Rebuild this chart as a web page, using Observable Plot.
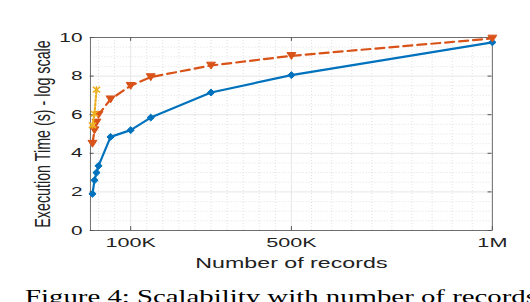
<!DOCTYPE html>
<html><head><meta charset="utf-8">
<script src="https://cdn.jsdelivr.net/npm/d3@7"></script>
<script src="https://cdn.jsdelivr.net/npm/@observablehq/plot@0.6"></script>
<style>
html,body{margin:0;padding:0;background:#fff;width:530px;height:302px;overflow:hidden;position:relative;}
#chart svg line, #chart svg path, #chart svg rect{vector-effect:non-scaling-stroke;}
#caption{position:absolute;left:25px;top:288px;font-family:"Liberation Serif","Times New Roman",serif;font-size:18px;line-height:18px;white-space:nowrap;transform:scaleX(1.6);transform-origin:0 0;color:#000;}
</style></head>
<body><div id="chart"></div><div id="caption">Figure 4: Scalability with number of records</div>
<script>
// ---- data ----
const records = [5000, 10000, 15000, 20000, 50000, 100000, 150000, 300000, 500000, 1000000];
const seriesBlue = [1.9, 2.6, 3.0, 3.35, 4.85, 5.2, 5.85, 7.15, 8.05, 9.75];
const seriesOrange = [4.5, 5.2, 5.6, 6.0, 6.8, 7.5, 7.95, 8.55, 9.05, 9.95];
const recordsYellow = [5000, 10000, 15000];
const seriesYellow = [5.45, 6.05, 7.3];
const xTicks = [100000, 500000, 1000000];
const xTickLabels = ["100K", "500K", "1M"];
const yTicks = [0, 2, 4, 6, 8, 10];
const xMinor = [20000, 60000, 140000, 180000, 220000, 260000, 300000, 340000, 380000, 420000, 460000,
                550000, 600000, 650000, 700000, 750000, 800000, 850000, 900000, 950000];
const yMinor = [0.5, 1, 1.5, 2.5, 3, 3.5, 4.5, 5, 5.5, 6.5, 7, 7.5, 8.5, 9, 9.5];

const blue = records.map((x, i) => ({x, y: seriesBlue[i]}));
const orange = records.map((x, i) => ({x, y: seriesOrange[i]}));
const yellow = recordsYellow.map((x, i) => ({x, y: seriesYellow[i]}));

// ---- symbols (drawn in internal units; svg is stretched horizontally) ----
const diamondSym = {draw(ctx, size) { const r = Math.sqrt(size / Math.PI);
  ctx.moveTo(0, -1.15 * r); ctx.lineTo(0.75 * r, 0); ctx.lineTo(0, 1.15 * r); ctx.lineTo(-0.75 * r, 0); ctx.closePath(); }};
const triDownSym = {draw(ctx, size) { const r = Math.sqrt(size / Math.PI);
  ctx.moveTo(-0.93 * r, -1.1 * r); ctx.lineTo(0.93 * r, -1.1 * r); ctx.lineTo(0, 1.2 * r); ctx.closePath(); }};
const asteriskSym = {draw(ctx, size) { const r = Math.sqrt(size / Math.PI);
  ctx.moveTo(-0.75 * r, -0.9 * r); ctx.lineTo(0.75 * r, 0.9 * r);
  ctx.moveTo(-0.75 * r, 0.9 * r); ctx.lineTo(0.75 * r, -0.9 * r);
  ctx.moveTo(0, -1.15 * r); ctx.lineTo(0, 1.15 * r); }};

const W = 331, H = 282, SCREEN_W = 530;
const font = "Liberation Sans, Arial, Helvetica, sans-serif";

const chart = Plot.plot({
  width: W, height: H,
  marginLeft: 56, marginRight: 24, marginTop: 37, marginBottom: 52,
  style: {fontFamily: font, background: "#fff", overflow: "visible"},
  x: {domain: [0, 1000000], axis: null},
  y: {domain: [0, 10], axis: null},
  marks: [
    Plot.ruleY(yMinor, {stroke: "#d9d9d9", strokeDasharray: "1,2", strokeWidth: 0.8}),
    Plot.ruleX(xMinor, {stroke: "#d9d9d9", strokeDasharray: "1,2", strokeWidth: 0.8}),
    Plot.ruleY(yTicks, {stroke: "#e6e6e6", strokeWidth: 1}),
    Plot.ruleX(xTicks, {stroke: "#e6e6e6", strokeWidth: 1}),
    Plot.frame({stroke: "#6e6e6e", strokeWidth: 1}),
    Plot.ruleX(xTicks, {x: d => d, y1: 0, y2: 0.2, stroke: "#555"}),
    Plot.ruleX(xTicks, {x: d => d, y1: 10, y2: 9.8, stroke: "#555"}),
    Plot.ruleY(yTicks, {y: d => d, x1: 0, x2: 10000, stroke: "#555"}),
    Plot.ruleY(yTicks, {y: d => d, x1: 1000000, x2: 990000, stroke: "#555"}),
    Plot.axisY({ticks: yTicks, tickSize: 0, tickPadding: 5, fontSize: 13, label: null, fill: "#222"}),
    Plot.axisX({ticks: xTicks, tickFormat: d => xTickLabels[xTicks.indexOf(d)], tickSize: 0, tickPadding: 7, fontSize: 13.5, label: null, fill: "#222"}),
    Plot.text(["Execution Time (s) - log scale"], {frameAnchor: "left", textAnchor: "middle", lineAnchor: "middle", dx: -30, rotate: -90, fontSize: 14.3, fill: "#222"}),
    Plot.text(["Number of records"], {frameAnchor: "bottom", textAnchor: "middle", lineAnchor: "middle", dy: 33, fontSize: 14.5, fill: "#222"}),
    Plot.line(blue, {x: "x", y: "y", stroke: "#0072BD", strokeWidth: 2.2}),
    Plot.dot(blue, {x: "x", y: "y", r: 3, symbol: diamondSym, fill: "#0072BD", stroke: "#0072BD", strokeWidth: 1}),
    Plot.line(orange, {x: "x", y: "y", stroke: "#D95319", strokeWidth: 2.2, strokeDasharray: "9,5"}),
    Plot.dot(orange, {x: "x", y: "y", r: 3, symbol: triDownSym, fill: "#D95319", stroke: "#D95319", strokeWidth: 1}),
    Plot.line(yellow, {x: "x", y: "y", stroke: "#EDB120", strokeWidth: 2.2, strokeDasharray: "2,2"}),
    Plot.dot(yellow, {x: "x", y: "y", r: 3, symbol: asteriskSym, fill: "none", stroke: "#EDB120", strokeWidth: 1.6})
  ]
});
chart.setAttribute("width", SCREEN_W);
chart.setAttribute("height", H);
chart.setAttribute("preserveAspectRatio", "none");
chart.style.width = SCREEN_W + "px";
chart.style.height = H + "px";
chart.style.maxWidth = "none";
chart.style.display = "block";
document.getElementById("chart").appendChild(chart);
</script>
</body></html>
